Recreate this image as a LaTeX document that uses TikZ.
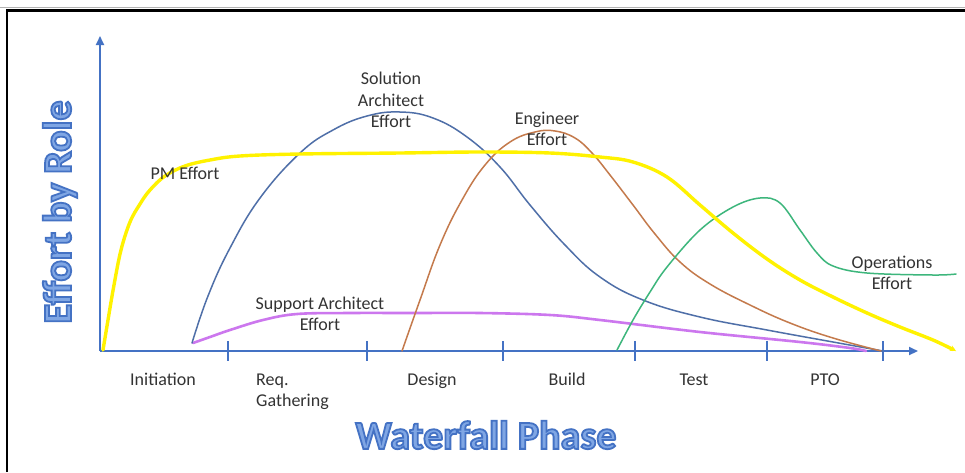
\documentclass[tikz,border=0pt]{standalone}
\usepackage{fontspec}
\setmainfont{Carlito}
\usetikzlibrary{arrows.meta}
\definecolor{axisblue}{HTML}{4472C4}
\definecolor{titlefill}{HTML}{7FA6E4}
\definecolor{pmyellow}{HTML}{FFF200}
\definecolor{sablue}{HTML}{4F6FA8}
\definecolor{engbrown}{HTML}{C47A4C}
\definecolor{opsgreen}{HTML}{3DB67C}
\definecolor{suppurple}{HTML}{CC77EE}
\definecolor{lbltext}{HTML}{333333}
\newcommand\outlinetext[1]{{\color{titlefill}\special{pdf:literal direct 0.267 0.447 0.769 RG 2 Tr 1.8 w}#1\special{pdf:literal direct 0 Tr}}}
\begin{document}
\begin{tikzpicture}[x=1pt,y=-1pt,
  lbl/.style={font=\fontsize{18}{21.5}\selectfont, text=lbltext, align=center, inner sep=0pt},
  phase/.style={lbl, text height=12.5pt, text depth=3.5pt},
  axisline/.style={draw=axisblue, line width=2pt},
  tick/.style={draw=axisblue, line width=1.3pt},
  curve/.style={line width=1.5pt, line join=round, line cap=round},
  title/.style={font=\fontsize{40}{44}\bfseries\selectfont, inner sep=0pt}]
\useasboundingbox (0,0) rectangle (965,472);
\fill[white] (0,0) rectangle (965,472);
% frame
\draw[gray!60, line width=0.8pt] (0,7.8) -- (965,7.8);
\draw[black, line width=2.7pt] (7,472) -- (7,10.7) -- (965,10.7);
% axes
\coordinate (O) at (100,351);
\coordinate (ytip) at (100,36);
\coordinate (xtip) at (918,351);
\draw[axisline, -{Triangle[length=9pt,width=8pt]}] (O) -- (ytip);
\draw[axisline, -{Triangle[length=9pt,width=8pt]}] (O) -- (xtip);
\foreach \x/\n in {228/t1,367/t2,503/t3,635/t4,767/t5,883/t6}{
  \coordinate (\n a) at (\x,341);
  \coordinate (\n b) at (\x,361);
  \draw[tick] (\n a) -- (\n b);
}
% phase labels
\node[phase] (ini) at (163,381) {Initiation};
\node[lbl, align=left, anchor=west] (req) at (256,392) {Req.\\Gathering};
\node[phase] (des) at (432,381) {Design};
\node[phase] (bld) at (567,381) {Build};
\node[phase] (tst) at (694,381) {Test};
\node[phase] (pto) at (825,381) {PTO};
% axis titles
\node[title] (xt) at (486,435) {\outlinetext{Waterfall Phase}};
\node[title, rotate=90] (yt) at (60,212) {\outlinetext{Effort by Role}};
% curves
\draw[curve, suppurple, line width=2.6pt] plot[smooth, tension=0.6] coordinates {
  (193,343) (210,337) (230,330) (263,320) (297,314) (350,313) (413,313) (480,313)
  (550,315) (600,320) (700,332) (800,342) (850,348) (866,351)};
\draw[curve, sablue] plot[smooth, tension=0.7] coordinates {
  (192,343) (208,296) (230,248) (260,198) (300,153) (333,130)
  (367,116) (400,112) (433,118) (467,137) (500,167) (530,205) (565,245) (600,277)
  (643,300) (700,317) (767,330) (833,342) (883,351)};
\draw[curve, engbrown] plot[smooth, tension=0.7] coordinates {
  (402,351) (420,300) (440,245) (462,200) (485,165) (510,142) (535,132)
  (555,131) (575,138) (592,153) (610,175) (633,205) (655,234) (680,262) (710,284)
  (750,305) (790,323) (833,338) (881,351)};
\draw[curve, opsgreen] plot[smooth, tension=0.6] coordinates {
  (617,350) (633,320) (650,292) (667,267) (700,230) (733,207) (760,198) (780,203)
  (800,230) (817,253) (833,266) (867,273) (933,275) (956,274)};
\draw[curve, pmyellow, line width=3.4pt, -{Stealth[length=6pt,width=6pt]}] plot[smooth, tension=0.6] coordinates {
  (103,350) (108,320) (114,285) (121,250) (130,222) (140,204) (150,190) (165,176)
  (185,166) (210,160) (240,156) (300,154) (400,153) (480,152) (550,153) (600,157)
  (633,162) (667,177) (700,205) (733,233) (767,259) (800,280) (833,297) (867,313)
  (900,327) (933,340) (956,351)};
% curve labels
\node[lbl] (pm) at (185,173) {PM Effort};
\node[lbl] (sa) at (391,100) {Solution\\Architect\\Effort};
\node[lbl] (eng) at (547,129) {Engineer\\Effort};
\node[lbl] (sup) at (320,314) {Support Architect\\Effort};
\node[lbl] (ops) at (892,273) {Operations\\Effort};
\end{tikzpicture}
\end{document}
